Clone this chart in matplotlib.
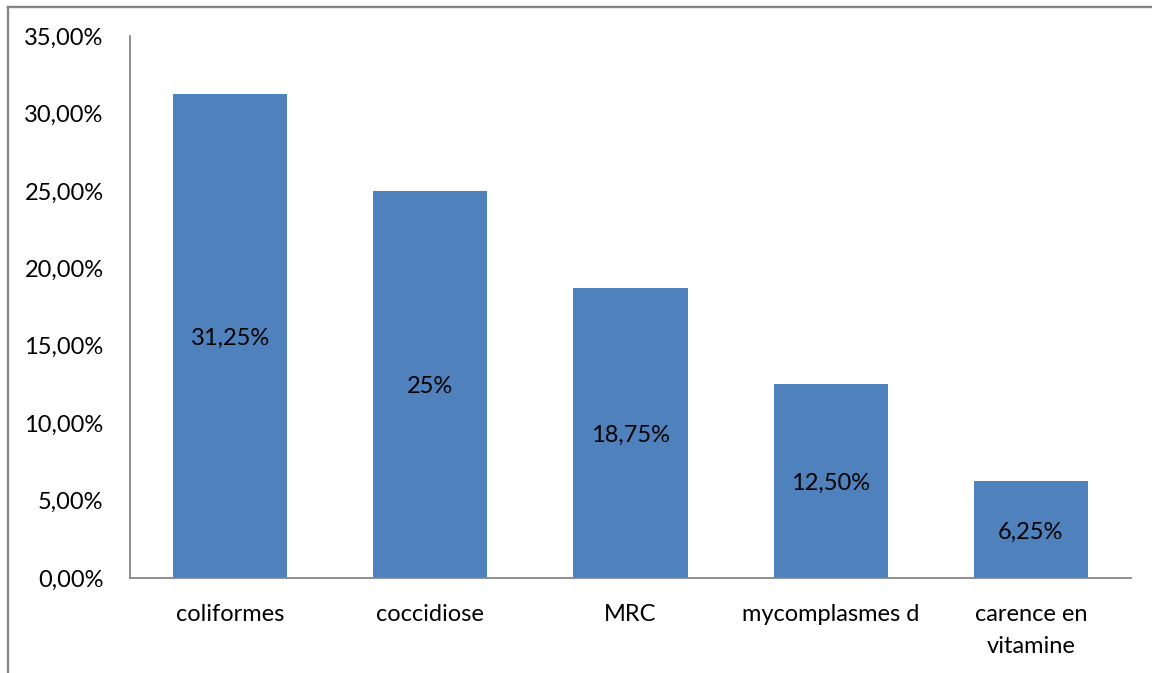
import matplotlib

matplotlib.use("Agg")
import matplotlib.pyplot as plt  # noqa: E402

categories = ["coliformes", "coccidiose", "MRC", "mycomplasmes d", "carence en\nvitamine"]
values = [31.25, 25.0, 18.75, 12.5, 6.25]
bar_labels = ["31,25%", "25%", "18,75%", "12,50%", "6,25%"]
yticks = [0, 5, 10, 15, 20, 25, 30, 35]
ytick_labels = ["0,00%", "5,00%", "10,00%", "15,00%", "20,00%", "25,00%", "30,00%", "35,00%"]

plt.rcParams["font.family"] = ["Lato", "DejaVu Sans"]
FS = 17

fig = plt.figure(figsize=(11.52, 6.73), dpi=100)

# chart area border (cropped on right and bottom in the original)
frame = fig.add_axes([7.5 / 1152, 0, 1 - 7.5 / 1152 + 0.01, 1 - 7 / 673])
frame.set_xticks([])
frame.set_yticks([])
frame.patch.set_visible(False)
for s in ["right", "bottom"]:
    frame.spines[s].set_visible(False)
for s in ["left", "top"]:
    frame.spines[s].set_color("#868686")
    frame.spines[s].set_linewidth(1.7)

ax = fig.add_axes([130 / 1152, 95 / 673, 1001 / 1152, 542 / 673])

x = range(len(categories))
bars = ax.bar(x, values, width=0.57, color="#4F81BD")
for b, lab in zip(bars, bar_labels):
    ax.text(b.get_x() + b.get_width() / 2, b.get_height() / 2 - 0.15, lab,
            ha="center", va="center", fontsize=FS, color="black")

ax.set_xlim(-0.5, len(categories) - 0.5)
ax.set_ylim(0, 35)
ax.set_yticks(yticks)
ax.set_yticklabels(ytick_labels, fontsize=FS)
ax.set_xticks(list(x))
ax.set_xticklabels(categories, fontsize=FS, linespacing=1.6)
ax.tick_params(axis="both", length=0)
ax.tick_params(axis="y", pad=19)
ax.tick_params(axis="x", pad=19)
for s in ["top", "right"]:
    ax.spines[s].set_visible(False)
for s in ["left", "bottom"]:
    ax.spines[s].set_color("#868686")
    ax.spines[s].set_linewidth(1.3)

fig.savefig("out.png", dpi=100)
